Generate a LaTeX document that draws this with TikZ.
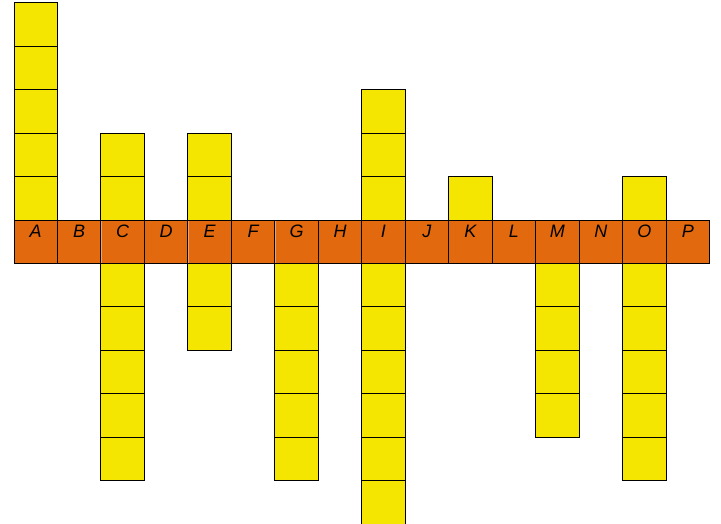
\documentclass[tikz,border=0pt]{standalone}
\usepackage{fontspec}
\setmainfont{Liberation Sans}
\definecolor{cellyellow}{HTML}{F4E600}
\definecolor{cellorange}{HTML}{E2690E}
\definecolor{faint}{HTML}{F0A070}
\begin{document}
\begin{tikzpicture}[x=1pt,y=-1pt,
  cellbox/.style={draw=black,line width=1pt,minimum width=43.47pt,minimum height=43.47pt,inner sep=0pt,outer sep=0pt,anchor=north west},
  yell/.style={cellbox,fill=cellyellow},
  rowbox/.style={draw=black,line width=1pt,fill=cellorange,minimum width=695.5pt,minimum height=43.47pt,inner sep=0pt,outer sep=0pt,anchor=north west},
  lbl/.style={font=\fontsize{18}{18}\selectfont\itshape,text=black,inner sep=0pt}]
\useasboundingbox (0,0) rectangle (721,523);
\def\cw{43.47}
% orange row
\node[rowbox] (row) at (14,220) {};
\foreach \i in {1,...,15}{
  \draw[faint,line width=0.6pt] ({14+\i*\cw},220.5) -- ({14+\i*\cw},263);
}
% yellow cells above
\foreach \c/\n in {0/5,2/2,4/2,8/3,10/1,14/1}{
  \foreach \k in {1,...,\n}{
    \node[yell] (u-\c-\k) at ({14+\c*\cw},{220-\k*\cw}) {};
  }
}
% yellow cells below
\foreach \c/\n in {2/5,4/2,6/5,8/6,12/4,14/5}{
  \foreach \k in {1,...,\n}{
    \node[yell] (d-\c-\k) at ({14+\c*\cw},{220+\k*\cw}) {};
  }
}
% black borders of row cells in yellow columns
\foreach \c in {0,2,4,6,8,10,12,14}{
  \node[cellbox] (r-\c) at ({14+\c*\cw},220) {};
}
% labels
\foreach \l [count=\i from 0] in {A,B,C,D,E,F,G,H,I,J,K,L,M,N,O,P}{
  \node[lbl] (l-\l) at ({14+(\i+0.5)*\cw},231.5) {\l};
}
\end{tikzpicture}
\end{document}
